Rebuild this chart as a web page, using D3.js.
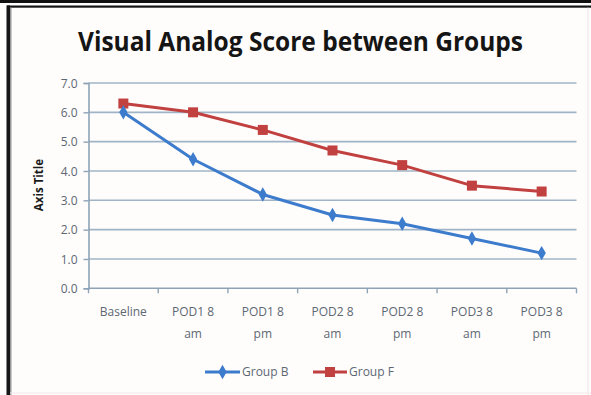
<!DOCTYPE html>
<html>
<head>
<meta charset="utf-8">
<script src="https://cdn.jsdelivr.net/npm/d3@7"></script>
<style>
  html, body { margin: 0; padding: 0; background: #ffffff; }
  svg { display: block; }
  text { font-family: "Open Sans", "Lato", sans-serif; }
</style>
</head>
<body>
<svg id="chart" width="591" height="395"></svg>
<script>
// Time points (two-line labels) and VAS scores per group
const categories = [
  ["Baseline"],
  ["POD1 8", "am"],
  ["POD1 8", "pm"],
  ["POD2 8", "am"],
  ["POD2 8", "pm"],
  ["POD3 8", "am"],
  ["POD3 8", "pm"]
];
const groupB = [6.0, 4.4, 3.2, 2.5, 2.2, 1.7, 1.2];
const groupF = [6.3, 6.0, 5.4, 4.7, 4.2, 3.5, 3.3];
const yTicks = [0, 1, 2, 3, 4, 5, 6, 7];
const seriesNames = ["Group B", "Group F"];

const W = 591, H = 395;
const plot = { left: 88.5, right: 576.5, top: 83, bottom: 288.3 };

const svg = d3.select("#chart");

// picture frame: heavy top band and left edge
svg.append("rect").attr("x", 0).attr("y", 0).attr("width", W).attr("height", H).attr("fill", "#fffdfc");
svg.append("rect").attr("x", 0).attr("y", 0).attr("width", W).attr("height", 3).attr("fill", "#111");
svg.append("rect").attr("x", 0).attr("y", 3).attr("width", W).attr("height", 2.5).attr("fill", "#fff");
svg.append("rect").attr("x", 7).attr("y", 5.5).attr("width", W - 7).attr("height", 2.2).attr("fill", "#151515");
svg.append("rect").attr("x", 6.5).attr("y", 5.5).attr("width", 3.5).attr("height", H).attr("fill", "#151515");
svg.append("rect").attr("x", 10).attr("y", 7.7).attr("width", 1.5).attr("height", H).attr("fill", "#9a9a9a");
svg.append("rect").attr("x", 587.5).attr("y", 7.7).attr("width", 1).attr("height", H).attr("fill", "#eee6e4");
svg.append("rect").attr("x", 10).attr("y", 392.5).attr("width", W).attr("height", 1).attr("fill", "#f1e9e7");

const x = d3.scalePoint()
  .domain(d3.range(categories.length))
  .range([plot.left, plot.right])
  .padding(0.5);
const step = x.step();

const y = d3.scaleLinear().domain([0, 7]).range([plot.bottom, plot.top]);

const gridColor = "#9fb4c6";
const axisColor = "#8ea3b6";
const labelColor = "#5d6873";

// horizontal gridlines
svg.append("g")
  .selectAll("line")
  .data(yTicks.filter(d => d > 0))
  .join("line")
  .attr("x1", plot.left).attr("x2", plot.right)
  .attr("y1", d => y(d)).attr("y2", d => y(d))
  .attr("stroke", gridColor).attr("stroke-width", 1.6);

// y axis
const yAxis = svg.append("g")
  .attr("transform", `translate(${plot.left},0)`)
  .call(d3.axisLeft(y).tickValues(yTicks).tickFormat(d3.format(".1f")).tickSize(5).tickPadding(6));
yAxis.select(".domain").attr("stroke", axisColor).attr("stroke-width", 1.6);
yAxis.selectAll(".tick line").attr("stroke", axisColor).attr("stroke-width", 1.4);
yAxis.selectAll(".tick text")
  .attr("fill", labelColor)
  .style("font-size", "12px")
  .style("font-family", "'Open Sans', sans-serif")
  .attr("dy", "0.35em");

// x axis with boundary ticks between categories
const xg = svg.append("g");
xg.append("line")
  .attr("x1", plot.left).attr("x2", plot.right)
  .attr("y1", plot.bottom).attr("y2", plot.bottom)
  .attr("stroke", axisColor).attr("stroke-width", 1.6);
xg.selectAll("line.bt")
  .data(d3.range(categories.length + 1))
  .join("line")
  .attr("class", "bt")
  .attr("x1", i => plot.left + i * step).attr("x2", i => plot.left + i * step)
  .attr("y1", plot.bottom).attr("y2", plot.bottom + 5)
  .attr("stroke", axisColor).attr("stroke-width", 1.4);

const xl = xg.selectAll("text.xl")
  .data(categories)
  .join("text")
  .attr("class", "xl")
  .attr("text-anchor", "middle")
  .attr("fill", labelColor)
  .style("font-size", "12px");
xl.each(function (lines, i) {
  const t = d3.select(this);
  lines.forEach((s, j) => {
    t.append("tspan")
      .attr("x", x(i))
      .attr("y", 316 + j * 22)
      .text(s);
  });
});

// axis title
svg.append("text")
  .attr("transform", "translate(43,185) rotate(-90)")
  .attr("text-anchor", "middle")
  .attr("fill", "#1a1a1a")
  .style("font-size", "11.5px")
  .style("font-weight", "bold")
  .text("Axis Title");

// chart title
svg.append("text")
  .attr("x", 300.5)
  .attr("y", 51)
  .attr("text-anchor", "middle")
  .attr("fill", "#151515")
  .attr("textLength", 445)
  .attr("lengthAdjust", "spacingAndGlyphs")
  .style("font-size", "26px")
  .style("font-weight", "bold")
  .text("Visual Analog Score between Groups");

const colors = ["#3d7ccc", "#c0413f"];
const series = [groupB, groupF];
const line = d3.line().x((d, i) => x(i)).y(d => y(d));

const diamond = d3.symbol().type(d3.symbolDiamond).size(60);
const square = d3.symbol().type(d3.symbolSquare).size(100);
const shapes = [diamond, square];

// draw group F first so group B line sits on top at baseline
[1, 0].forEach(k => {
  svg.append("path")
    .datum(series[k])
    .attr("d", line)
    .attr("fill", "none")
    .attr("stroke", colors[k])
    .attr("stroke-width", 3)
    .attr("stroke-linejoin", "round");
  svg.append("g")
    .selectAll("path")
    .data(series[k])
    .join("path")
    .attr("d", shapes[k])
    .attr("transform", (d, i) => `translate(${x(i)},${y(d)})`)
    .attr("fill", colors[k]);
});

// legend
const legend = [
  { x1: 205, x2: 240, tx: 242 },
  { x1: 313, x2: 347, tx: 349 }
];
legend.forEach((l, k) => {
  const g = svg.append("g");
  g.append("line")
    .attr("x1", l.x1).attr("x2", l.x2).attr("y1", 372).attr("y2", 372)
    .attr("stroke", colors[k]).attr("stroke-width", 3);
  g.append("path")
    .attr("d", shapes[k])
    .attr("transform", `translate(${(l.x1 + l.x2) / 2},372)`)
    .attr("fill", colors[k]);
  g.append("text")
    .attr("x", l.tx).attr("y", 376)
    .attr("fill", labelColor)
    .style("font-size", "12px")
    .text(seriesNames[k]);
});
</script>
</body>
</html>
